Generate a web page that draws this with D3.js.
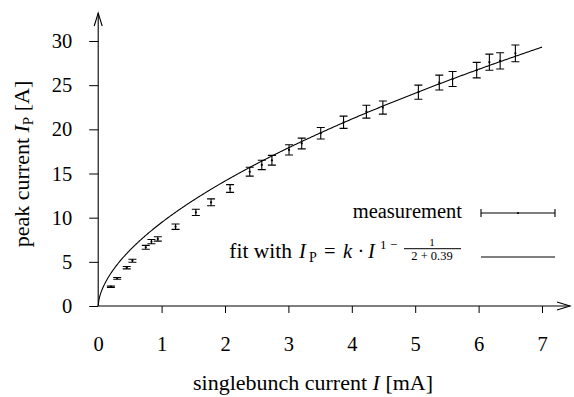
<!DOCTYPE html>
<html>
<head>
<meta charset="utf-8">
<script src="https://cdn.jsdelivr.net/npm/d3@7"></script>
<style>
  body { margin: 0; background: #fff; }
  svg text { font-family: "Liberation Serif", "Times New Roman", serif; fill: #000; }
</style>
</head>
<body>
<svg id="chart" width="574" height="397"></svg>
<script>
// measured singlebunch current [mA]
const current = [0.20, 0.30, 0.45, 0.54, 0.75, 0.84, 0.94, 1.22, 1.54, 1.78, 2.08, 2.39, 2.58, 2.74,
                 3.01, 3.21, 3.51, 3.87, 4.23, 4.49, 5.05, 5.38, 5.59, 5.97, 6.17, 6.34, 6.58];
// peak current [A]
const peak = [2.19, 3.13, 4.34, 5.13, 6.64, 7.28, 7.59, 8.98, 10.6, 11.74, 13.3, 15.2, 15.97, 16.5,
              17.67, 18.4, 19.56, 20.8, 22.0, 22.46, 24.2, 25.3, 25.7, 26.7, 27.6, 27.75, 28.6];
// error of the peak current [A]
const peakErr = [0.08, 0.10, 0.14, 0.17, 0.22, 0.24, 0.25, 0.30, 0.35, 0.39, 0.44, 0.50, 0.53, 0.55,
                 0.58, 0.61, 0.65, 0.69, 0.73, 0.74, 0.80, 0.84, 0.85, 0.88, 0.91, 0.92, 0.95];
const xTicks = [0, 1, 2, 3, 4, 5, 6, 7];
const yTicks = [0, 5, 10, 15, 20, 25, 30];
// fit parameters I_p = k * I^(1 - 1/(2+0.39))
const fitK = 9.45;
const fitExp = 1 - 1 / (2 + 0.39);

const svg = d3.select("#chart");
const serif = '"Liberation Serif", "Times New Roman", serif';
const tickFont = 20.5, titleFont = 22, legFont = 20.5;

const x = d3.scaleLinear().domain([0, 7]).range([98.2, 542]);
const y = d3.scaleLinear().domain([0, 30]).range([306, 41]);

// axes
const xAxis = svg.append("g")
    .attr("transform", "translate(0," + y(0) + ")")
    .call(d3.axisBottom(x).tickValues(xTicks).tickSize(7).tickPadding(23).tickFormat(d3.format("d")));
const yAxis = svg.append("g")
    .attr("transform", "translate(" + x(0) + ",0)")
    .call(d3.axisLeft(y).tickValues(yTicks).tickSize(9).tickPadding(17).tickFormat(d3.format("d")));

[xAxis, yAxis].forEach(g => {
    g.attr("font-family", null).attr("font-size", null);
    g.select(".domain").remove();
    g.selectAll(".tick line").attr("stroke", "#000").attr("stroke-width", 1);
    g.selectAll(".tick text").style("font-size", tickFont + "px").style("font-family", serif);
});
xAxis.selectAll(".tick").filter(d => d === 0).select("line").remove();

// axis lines with open arrow heads
const xEnd = 570, yEnd = 13;
svg.append("line").attr("x1", x(0)).attr("x2", xEnd).attr("y1", y(0)).attr("y2", y(0))
    .attr("stroke", "#000").attr("stroke-width", 1.1);
svg.append("line").attr("x1", x(0)).attr("x2", x(0)).attr("y1", y(0)).attr("y2", yEnd)
    .attr("stroke", "#000").attr("stroke-width", 1.1);
svg.append("path")
    .attr("d", `M${xEnd - 13},${y(0) - 4}L${xEnd},${y(0)}L${xEnd - 13},${y(0) + 4}`)
    .attr("fill", "none").attr("stroke", "#000").attr("stroke-width", 1.1);
svg.append("path")
    .attr("d", `M${x(0) - 4},${yEnd + 13}L${x(0)},${yEnd}L${x(0) + 4},${yEnd + 13}`)
    .attr("fill", "none").attr("stroke", "#000").attr("stroke-width", 1.1);

// axis titles
const xt = svg.append("text").attr("x", 313).attr("y", 390).attr("text-anchor", "middle")
    .style("font-size", titleFont + "px");
xt.append("tspan").text("singlebunch current ");
xt.append("tspan").attr("font-style", "italic").text("I");
xt.append("tspan").text(" [mA]");

const yt = svg.append("text").attr("transform", "translate(29,164) rotate(-90)")
    .attr("text-anchor", "middle").style("font-size", titleFont + "px");
yt.append("tspan").text("peak current ");
yt.append("tspan").attr("font-style", "italic").text("I");
yt.append("tspan").style("font-size", "15px").attr("dy", 4).text("P");
yt.append("tspan").attr("dy", -4).text(" [A]");

// fit curve
const fitX = d3.range(0, 7.0001, 0.01);
svg.append("path")
    .datum(fitX)
    .attr("d", d3.line().x(d => x(d)).y(d => y(fitK * Math.pow(d, fitExp))))
    .attr("fill", "none").attr("stroke", "#000").attr("stroke-width", 1.1);

// error bars
const pts = current.map((c, i) => ({ c: c, p: peak[i], e: peakErr[i] }));
const cap = 4;
svg.append("g").attr("stroke", "#000").attr("stroke-width", 1.1)
    .selectAll("path").data(pts).enter().append("path")
    .attr("d", d => {
        const cx = x(d.c), y1 = y(d.p - d.e), y2 = y(d.p + d.e);
        return `M${cx},${y1}L${cx},${y2}M${cx - cap},${y1}L${cx + cap},${y1}M${cx - cap},${y2}L${cx + cap},${y2}`;
    })
    .attr("fill", "none");
svg.append("g").selectAll("circle").data(pts).enter().append("circle")
    .attr("cx", d => x(d.c)).attr("cy", d => y(d.p)).attr("r", 1.1).attr("fill", "#000");

// legend
const R = 462, sx1 = 481, sx2 = 555;
const ly1 = 213, ly2 = 257;
svg.append("text").attr("x", R).attr("y", ly1 + 5).attr("text-anchor", "end")
    .style("font-size", legFont + "px").text("measurement");
svg.append("path")
    .attr("d", `M${sx1},${ly1}L${sx2},${ly1}M${sx1},${ly1 - cap}L${sx1},${ly1 + cap}M${sx2},${ly1 - cap}L${sx2},${ly1 + cap}`)
    .attr("stroke", "#000").attr("stroke-width", 1.1).attr("fill", "none");
svg.append("circle").attr("cx", (sx1 + sx2) / 2).attr("cy", ly1).attr("r", 1.1);

svg.append("line").attr("x1", sx1).attr("x2", sx2).attr("y1", ly2).attr("y2", ly2)
    .attr("stroke", "#000").attr("stroke-width", 1.1);

// "fit with I_P = k · I^{1 - 1/(2+0.39)}", pieces placed relative to the legend's right edge
const fb = ly2 + 1;
const piece = (dx, dy, txt, size, italic, anchor) => svg.append("text")
    .attr("x", R + dx).attr("y", fb + dy)
    .attr("text-anchor", anchor || "start")
    .attr("font-style", italic ? "italic" : null)
    .style("font-size", size + "px").text(txt);
piece(-170, 0, "fit with", 21.5, false, "end");
piece(-163, 0, "I", legFont, true);
piece(-153, 4, "P", 14);
piece(-138, 0, "=", legFont);
piece(-119, 0, "k", legFont, true);
piece(-101, 0, "·", legFont, false, "middle");
piece(-94, 0, "I", legFont, true);
piece(-82, -9, "1", 13);
piece(-72, -9, "−", 13);
piece(-30, -12.5, "1", 11, false, "middle");
piece(-30, 2, "2 + 0.39", 12.5, false, "middle");
svg.append("line").attr("x1", R - 58).attr("x2", R - 1)
    .attr("y1", fb - 9.3).attr("y2", fb - 9.3).attr("stroke", "#000").attr("stroke-width", 1);
</script>
</body>
</html>
